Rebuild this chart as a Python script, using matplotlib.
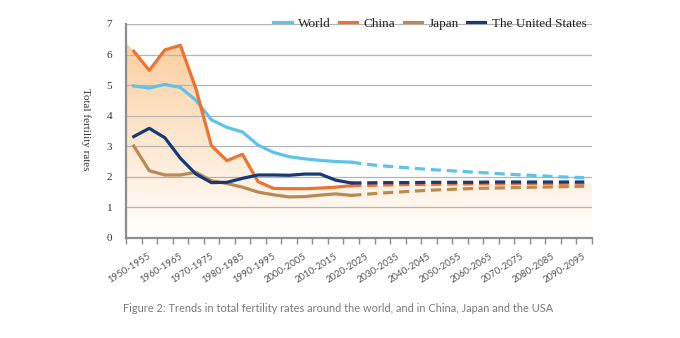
import numpy as np
import matplotlib.pyplot as plt
from matplotlib.patches import Polygon

# five-year periods, 1950-1955 ... 2095-2100
periods = ["1950-1955", "1955-1960", "1960-1965", "1965-1970", "1970-1975",
           "1975-1980", "1980-1985", "1985-1990", "1990-1995", "1995-2000",
           "2000-2005", "2005-2010", "2010-2015", "2015-2020", "2020-2025",
           "2025-2030", "2030-2035", "2035-2040", "2040-2045", "2045-2050",
           "2050-2055", "2055-2060", "2060-2065", "2065-2070", "2070-2075",
           "2075-2080", "2080-2085", "2085-2090", "2090-2095", "2095-2100"]

# estimates up to 2020-2025
world_hist = [4.97, 4.90, 5.02, 4.92, 4.50, 3.86, 3.61, 3.46, 3.03, 2.79, 2.65, 2.58, 2.53, 2.49, 2.47]
china_hist = [6.11, 5.48, 6.15, 6.30, 4.88, 3.01, 2.52, 2.73, 1.83, 1.61, 1.60, 1.60, 1.62, 1.65, 1.70]
japan_hist = [3.00, 2.19, 2.05, 2.05, 2.14, 1.86, 1.77, 1.65, 1.49, 1.40, 1.33, 1.34, 1.39, 1.43, 1.38]
usa_hist = [3.31, 3.58, 3.27, 2.60, 2.08, 1.80, 1.81, 1.94, 2.05, 2.05, 2.04, 2.08, 2.08, 1.88, 1.79]

# projections from 2020-2025 on
world_proj = [2.47, 2.40, 2.35, 2.31, 2.27, 2.23, 2.20, 2.17, 2.14, 2.11, 2.08, 2.05, 2.03, 2.00, 1.98, 1.96]
china_proj = [1.70, 1.71, 1.72, 1.73, 1.74, 1.74, 1.75, 1.75, 1.76, 1.76, 1.76, 1.77, 1.77, 1.77, 1.78, 1.78]
japan_proj = [1.38, 1.42, 1.46, 1.49, 1.52, 1.55, 1.57, 1.59, 1.61, 1.62, 1.63, 1.64, 1.65, 1.66, 1.67, 1.68]
usa_proj = [1.79, 1.79, 1.80, 1.80, 1.80, 1.81, 1.81, 1.81, 1.81, 1.82, 1.82, 1.82, 1.82, 1.82, 1.82, 1.82]

# shaded band starts a little above China's first value at the left edge
band_left = 6.37

colors = {"World": "#5ec3ea", "China": "#ec7433", "Japan": "#b98a55",
          "The United States": "#163a78"}

n = len(periods)
x = np.arange(n) + 0.5
x_hist = x[:len(world_hist)]
x_proj = x[len(world_hist) - 1:]

fig = plt.figure(figsize=(6.8, 3.38), dpi=100)
ax = fig.add_axes([0.1853, 0.2973, 0.6853, 0.6317])

# gradient fill under China's curve
bx = np.concatenate([[0], x_hist, x_proj[1:], [n]])
by = np.concatenate([[band_left], china_hist, china_proj[1:], [china_proj[-1]]])
verts = np.column_stack([np.concatenate([bx, [n, 0]]), np.concatenate([by, [0, 0]])])
poly = Polygon(verts, closed=True, facecolor="none", edgecolor="none")
ax.add_patch(poly)
top = np.array([252, 206, 158]) / 255.0
ys = np.linspace(0, 1, 256)[:, None]
grad = np.ones((256, 1, 3)) * (1 - ys[..., None]) + top * ys[..., None]
img = ax.imshow(grad, extent=[0, n, 0, 6.45], origin="lower", aspect="auto",
                zorder=0.5, interpolation="bilinear")
img.set_clip_path(poly)

series = [("World", world_hist, world_proj),
          ("China", china_hist, china_proj),
          ("Japan", japan_hist, japan_proj),
          ("The United States", usa_hist, usa_proj)]
for name, hist, proj in series:
    c = colors[name]
    ax.plot(x_hist, hist, color=c, lw=2.3, solid_joinstyle="round", label=name, zorder=3)
    ax.plot(x_proj, proj, color=c, lw=2.3, dashes=(3.2, 1.8), dash_capstyle="butt", zorder=3)

ax.set_xlim(0, n)
ax.set_ylim(0, 7)
ax.set_yticks(range(0, 8))
ax.grid(axis="y", color="#b5b5b5", lw=0.9)
ax.set_axisbelow(True)
for s in ["top", "right"]:
    ax.spines[s].set_visible(False)
for s in ["left", "bottom"]:
    ax.spines[s].set_color("#8c8c8c")
    ax.spines[s].set_linewidth(1.6)
    ax.spines[s].set_zorder(4)

ax.set_xticks(x[::2] - 0.25)
ax.set_xticklabels(periods[::2], rotation=32, ha="center", va="top",
                   fontsize=6.9, family="Lato", color="#555555")
ax.set_xticks(np.arange(n + 1), minor=True)
ax.tick_params(axis="x", which="major", length=0, pad=10)
ax.tick_params(axis="x", which="minor", length=4, width=1, color="#8c8c8c")
ax.tick_params(axis="y", length=0, pad=10, labelsize=8, labelcolor="#333333")
for t in ax.get_yticklabels():
    t.set_family("Liberation Serif")

fig.text(86 / 680, 1 - 129.5 / 338, "Total fertility rates", rotation=-90,
         ha="center", va="center", fontsize=8, family="Liberation Serif", color="#333333")

leg = ax.legend(loc="center right", bbox_to_anchor=(1.0, 1.0), ncol=4, frameon=False,
                prop={"family": "Liberation Serif", "size": 9.5},
                handlelength=1.4, handletextpad=0.5, columnspacing=0.6, borderaxespad=0)
for t in leg.get_texts():
    t.set_color("#222222")

fig.text(123 / 680, 1 - 308 / 338,
         "Figure 2: Trends in total fertility rates around the world, and in China, Japan and the USA",
         ha="left", va="center", fontsize=7.9, family="Lato", color="#7a7a7a")

fig.savefig("out.png", dpi=100)
